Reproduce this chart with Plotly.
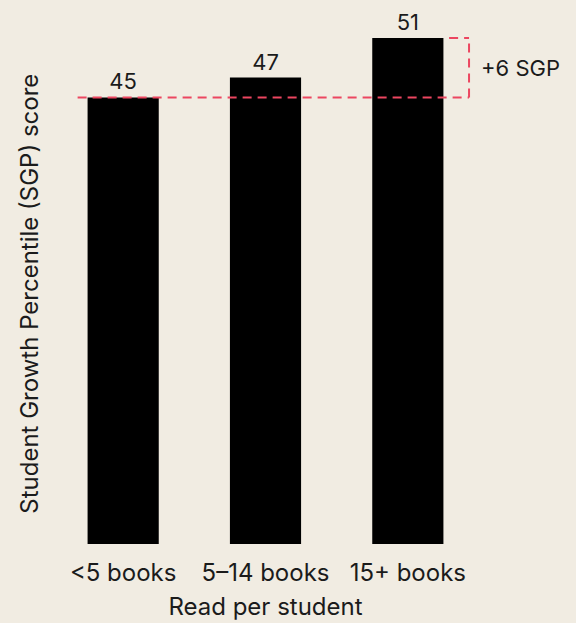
import plotly.graph_objects as go

# data
categorias = ['<5 books', '5–14 books', '15+ books']
sgp = [45, 47, 51]

fondo = '#f1ece2'
rojo = '#ec4660'
texto = '#1b1b1b'
fuente = 'Inter, Noto Sans, sans-serif'

fig = go.Figure()

fig.add_trace(go.Bar(
    x=categorias,
    y=sgp,
    marker=dict(color='#000000', line=dict(width=0)),
    text=[str(v) for v in sgp],
    textposition='outside',
    textfont=dict(size=22, color=texto, family=fuente),
    cliponaxis=False,
    hoverinfo='skip',
))

# linea de referencia y corchete de diferencia
diff = sgp[-1] - sgp[0]
linea = dict(color=rojo, width=2, dash='9px,6px')
fig.add_shape(type='line', xref='x', yref='y', x0=-0.32, x1=2.43,
              y0=sgp[0], y1=sgp[0], line=linea, layer='above')
fig.add_shape(type='line', xref='x', yref='y', x0=2.43, x1=2.43,
              y0=sgp[0], y1=sgp[-1], line=linea, layer='above')
fig.add_shape(type='line', xref='x', yref='y', x0=2.29, x1=2.43,
              y0=sgp[-1], y1=sgp[-1], line=linea, layer='above')

fig.add_annotation(
    x=1.0, xref='paper', xanchor='left',
    y=(sgp[0] + sgp[-1]) / 2, yref='y', yanchor='middle',
    text=f'+{diff} SGP', showarrow=False,
    font=dict(size=22, color=texto, family=fuente),
)

# titulo del eje y como anotacion para colocarlo mejor
fig.add_annotation(
    x=-0.052, xref='paper', xanchor='center',
    y=0.48, yref='paper', yanchor='middle',
    text='Student Growth Percentile (SGP) score', textangle=-90,
    showarrow=False, font=dict(size=24, color=texto, family=fuente),
)

fig.update_layout(
    width=576, height=623,
    paper_bgcolor=fondo, plot_bgcolor=fondo,
    margin=dict(l=52, r=97, t=23, b=79),
    bargap=0.5,
    showlegend=False,
    font=dict(family=fuente, color=texto),
)
fig.update_xaxes(
    range=[-0.5, 2.5], automargin=False,
    showgrid=False, showline=False, zeroline=False, ticks='',
    tickfont=dict(size=24, color=texto),
    ticklabelstandoff=12,
    title=dict(text='Read per student', font=dict(size=24, color=texto), standoff=12),
)
fig.update_yaxes(
    range=[0, 52.5], automargin=False,
    showgrid=False, showline=False, zeroline=False, showticklabels=False, ticks='',
)

fig.write_html('out.html', config={'displayModeBar': False},
               post_script="document.body.style.margin='0';document.body.style.background='#f1ece2';")
